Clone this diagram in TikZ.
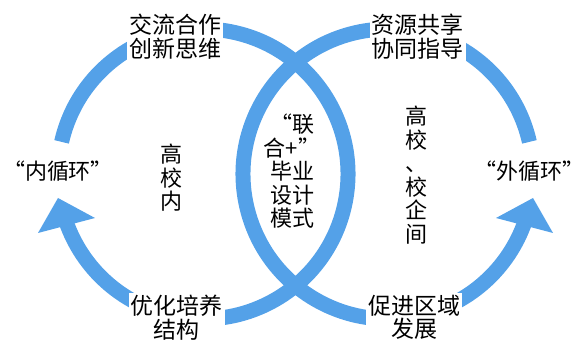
\documentclass[tikz,border=0pt]{standalone}
\usepackage{fontspec}
\setmainfont{Noto Sans CJK SC}
\usetikzlibrary{calc}
\definecolor{arcblue}{RGB}{84,161,232}
\tikzset{
  ring/.style={draw=arcblue, line width=15pt},
  tiphead/.style={fill=arcblue, draw=none},
  lbl/.style={fill=white, inner sep=2pt, align=center, font=\fontsize{23}{23.5}\selectfont},
  vtxt/.style={align=center, inner sep=0pt, font=\fontsize{22}{23.5}\selectfont},
  qtxt/.style={inner sep=0pt, font=\fontsize{22}{24}\selectfont}
}
\begin{document}
\begin{tikzpicture}[x=1pt,y=1pt]
\useasboundingbox (0,0) rectangle (584,340);
\coordinate (L) at (203,166);
\coordinate (R) at (388,166);
% left ring
\draw[ring] ($(L)+(167.2:145)$) arc[start angle=167.2, end angle=-161, radius=145];
\fill[tiphead] ($(L)+(-108,-44)$) -- ($(L)+(-145,-24)$) -- ($(L)+(-165,-59)$) -- cycle;
% right ring
\draw[ring] ($(R)+(12.8:145)$) arc[start angle=12.8, end angle=341, radius=145];
\fill[tiphead] ($(R)+(108,-44)$) -- ($(R)+(145,-24)$) -- ($(R)+(165,-59)$) -- cycle;
% labels on the rings
\node[lbl] (tl) at (175,303.5) {交流合作\\创新思维};
\node[lbl] (tr) at (417.5,303.5) {资源共享\\协同指导};
\node[lbl] (bl) at (176.5,22.5) {优化培养\\结构};
\node[lbl] (br) at (414,22.5) {促进区域\\发展};
% loop names
\node[qtxt] (inner) at (58,169) {“内循环”};
\node[qtxt] (outer) at (529,169) {“外循环”};
% vertical texts
\node[vtxt] (vl) at (171,162) {高\\校\\内};
\node[vtxt] (vr) at (416.5,165) {高\\校\\、\\校\\企\\间};
\node[vtxt] (mid) at (292,168.5) {“联\\合+”\\毕业\\设计\\模式};
\end{tikzpicture}
\end{document}
